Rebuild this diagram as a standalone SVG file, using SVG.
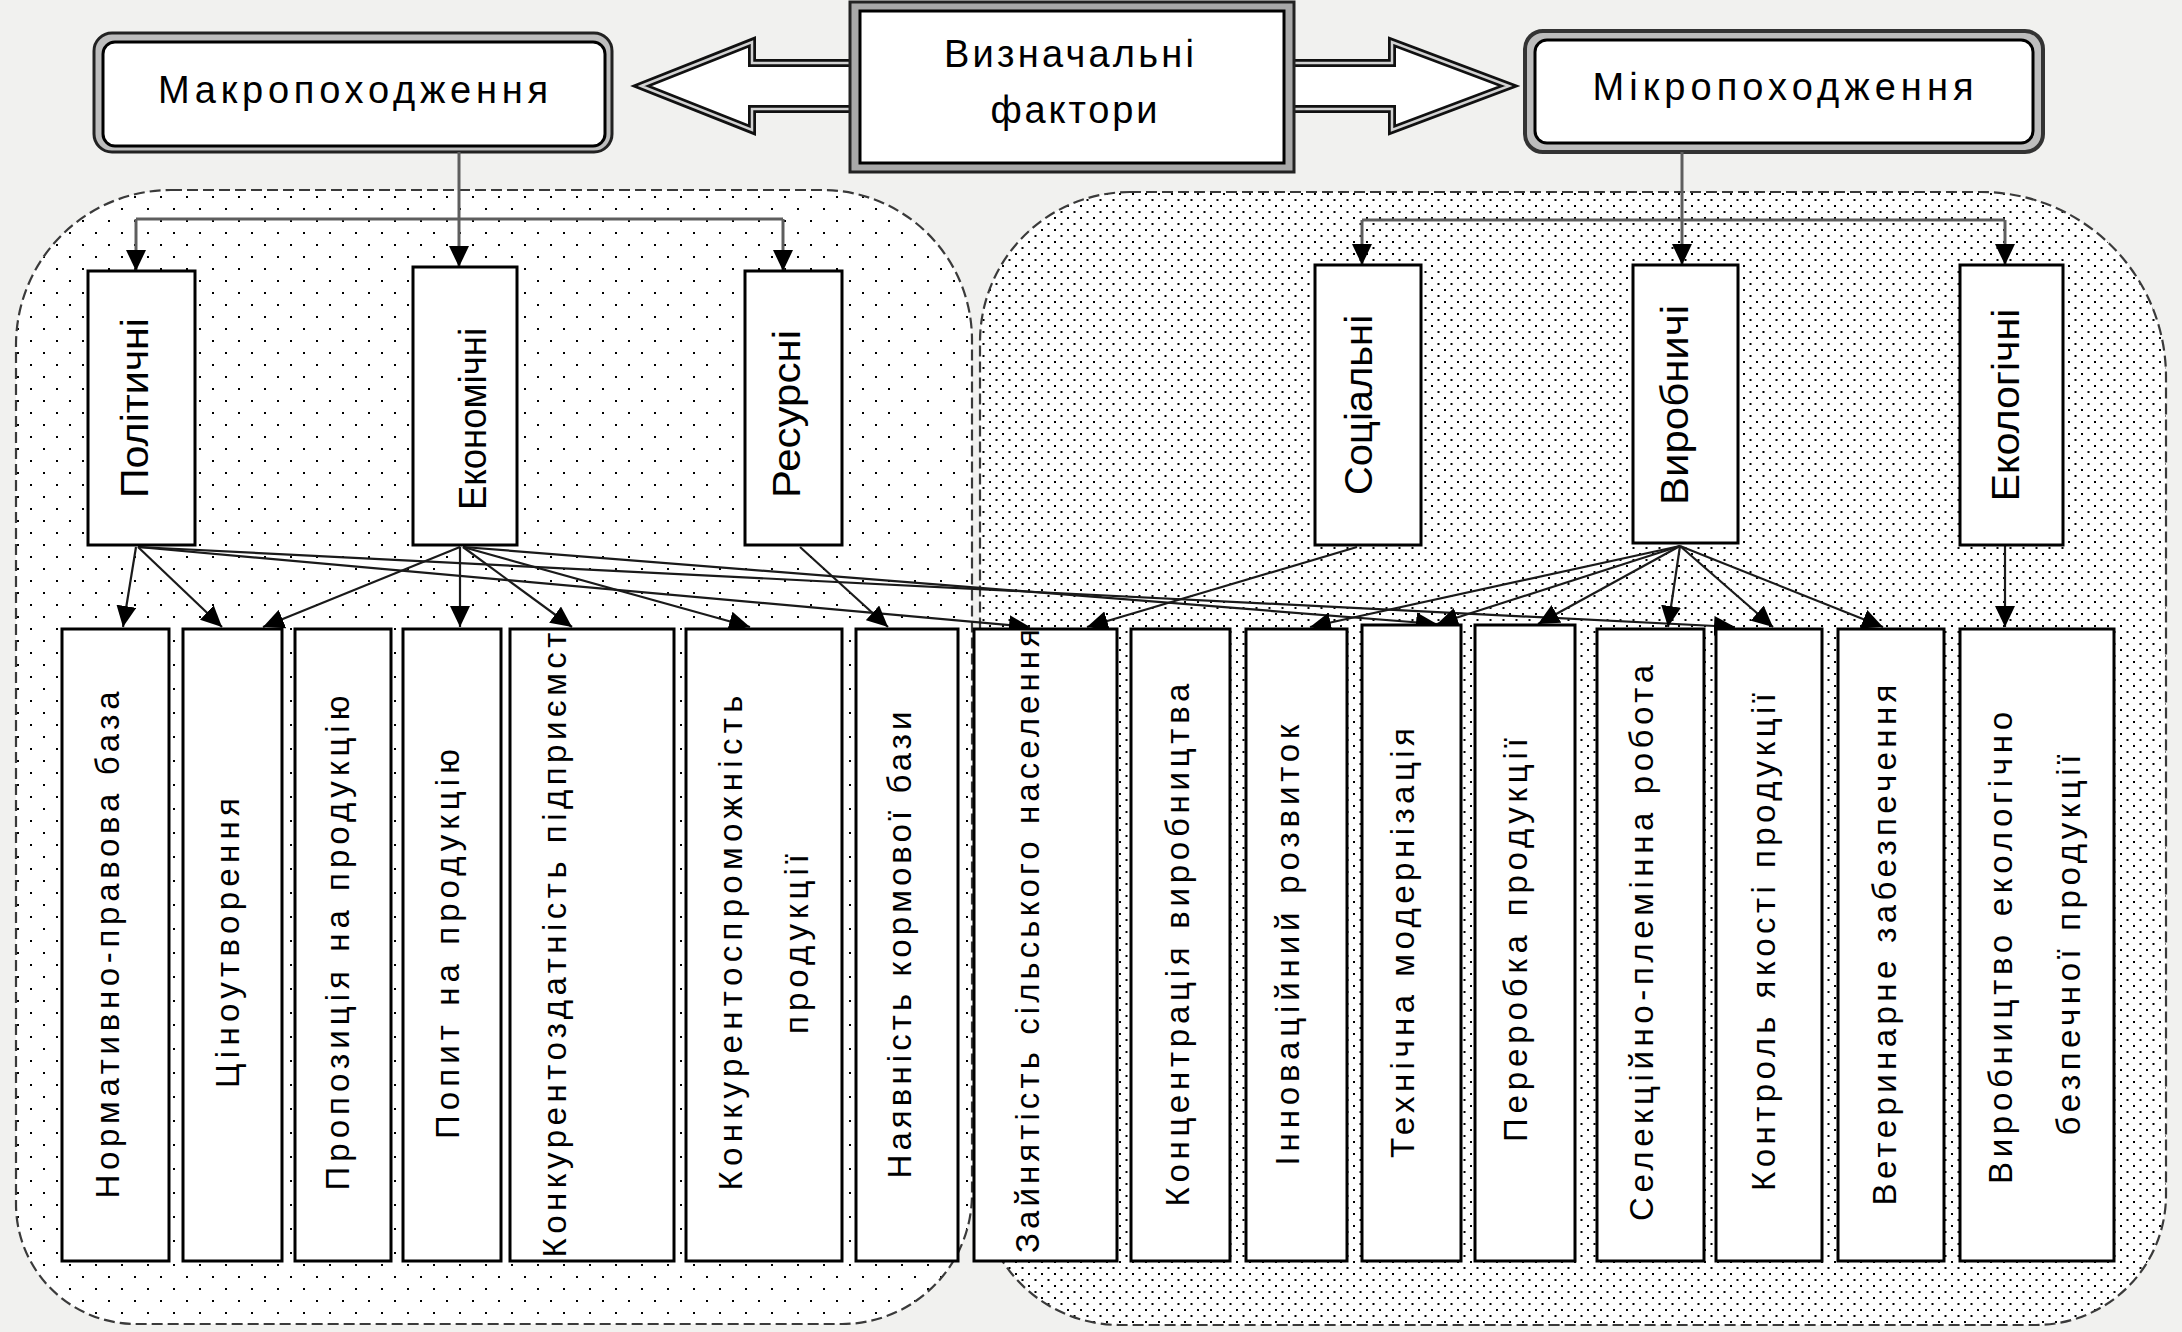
<svg xmlns="http://www.w3.org/2000/svg" width="2182" height="1332" viewBox="0 0 2182 1332">
<defs>
<style>
text{font-family:"Liberation Sans",Arial,sans-serif;fill:#000}
.top{font-size:38px;text-anchor:middle}
.mid{font-size:39px;text-anchor:middle}
.bot{font-size:33px;text-anchor:middle}
.box{fill:#fff;stroke:#000;stroke-width:3}
.region{fill:none;stroke:#3a3a3a;stroke-width:2.2;stroke-dasharray:11 5}
.ln{fill:none;stroke:#1a1a1a;stroke-width:2.2}
.br{fill:none;stroke:#5e5e5e;stroke-width:3}
</style>
<pattern id="dotsL" width="26" height="24" patternUnits="userSpaceOnUse">
<rect x="4" y="4" width="2" height="2" fill="#000"/>
<rect x="17" y="16" width="2" height="2" fill="#000"/>
</pattern>
<pattern id="dotsR" width="13" height="12" patternUnits="userSpaceOnUse">
<rect x="1" y="1" width="2" height="2" fill="#000"/>
<rect x="7.5" y="7" width="2" height="2" fill="#000"/>
</pattern>
<marker id="ah" viewBox="0 0 21 20" refX="21" refY="10" markerWidth="21" markerHeight="20" markerUnits="userSpaceOnUse" orient="auto">
<path d="M0,0 L21,10 L0,20 Z" fill="#000"/>
</marker>
</defs>
<rect x="0" y="0" width="2182" height="1332" fill="#f1f1ef"/>

<g id="region-macro">
<path d="M171,190 H822 A150 150 0 0 1 972,340 V1194 A130 130 0 0 1 842,1324 H136 A120 120 0 0 1 16,1204 V345 A155 155 0 0 1 171,190 Z" fill="#fff"/>
<path d="M171,190 H822 A150 150 0 0 1 972,340 V1194 A130 130 0 0 1 842,1324 H136 A120 120 0 0 1 16,1204 V345 A155 155 0 0 1 171,190 Z" fill="url(#dotsL)"/>
<path class="region" d="M171,190 H822 A150 150 0 0 1 972,340 V1194 A130 130 0 0 1 842,1324 H136 A120 120 0 0 1 16,1204 V345 A155 155 0 0 1 171,190 Z"/>
</g>
<g id="region-micro">
<path d="M1130,192 H1981 A185 185 0 0 1 2166,377 V1195 A130 130 0 0 1 2036,1325 H1120 A140 140 0 0 1 980,1185 V342 A150 150 0 0 1 1130,192 Z" fill="#fff"/>
<path d="M1130,192 H1981 A185 185 0 0 1 2166,377 V1195 A130 130 0 0 1 2036,1325 H1120 A140 140 0 0 1 980,1185 V342 A150 150 0 0 1 1130,192 Z" fill="url(#dotsR)"/>
<path class="region" d="M1130,192 H1981 A185 185 0 0 1 2166,377 V1195 A130 130 0 0 1 2036,1325 H1120 A140 140 0 0 1 980,1185 V342 A150 150 0 0 1 1130,192 Z"/>
</g>

<g id="factors">
<polygon points="641,86 752,42 752,63 1392,63 1392,42 1509,86 1392,130 1392,109 752,109 752,130" fill="#fff" stroke="#111" stroke-width="8" stroke-linejoin="miter"/>
<polygon points="641,86 752,42 752,63 1392,63 1392,42 1509,86 1392,130 1392,109 752,109 752,130" fill="none" stroke="#d2d2d2" stroke-width="2.5"/>
<rect x="850" y="2" width="444" height="170" fill="#a8a8a8" stroke="#222" stroke-width="3"/>
<rect x="860" y="11" width="424" height="152" fill="#fff" stroke="#000" stroke-width="3"/>
<text class="top" x="1069" y="67" font-size="36" textLength="250" lengthAdjust="spacing">Визначальні</text>
<text class="top" x="1074" y="123" font-size="36" textLength="167" lengthAdjust="spacing">фактори</text>
</g>

<g id="macro">
<rect x="94" y="33" width="518" height="119" rx="18" fill="#bdbdbd" stroke="#222" stroke-width="3"/>
<rect x="103" y="42" width="502" height="104" rx="12" fill="#fff" stroke="#000" stroke-width="3"/>
<text class="top" x="353" y="103" textLength="390" lengthAdjust="spacing">Макропоходження</text>
</g>
<g id="micro">
<rect x="1525" y="31" width="518" height="121" rx="18" fill="#bdbdbd" stroke="#333" stroke-width="4"/>
<rect x="1535" y="40" width="498" height="103" rx="12" fill="#fff" stroke="#000" stroke-width="3"/>
<text class="top" x="1783" y="100" textLength="381" lengthAdjust="spacing">Мікропоходження</text>
</g>

<g id="connectors">
<path class="br" d="M459,152 V267" marker-end="url(#ah)"/>
<path class="br" d="M136,219 H783"/>
<path class="br" d="M136,219 V271" marker-end="url(#ah)"/>
<path class="br" d="M783,219 V271" marker-end="url(#ah)"/>
<path class="br" d="M1682,152 V265" marker-end="url(#ah)"/>
<path class="br" d="M1362,220 H2005"/>
<path class="br" d="M1362,220 V265" marker-end="url(#ah)"/>
<path class="br" d="M2005,220 V265" marker-end="url(#ah)"/>

<path class="ln" d="M136,547 L123,627" marker-end="url(#ah)"/>
<path class="ln" d="M138,547 L222,627" marker-end="url(#ah)"/>
<path class="ln" d="M138,547 L1030,627" marker-end="url(#ah)"/>
<path class="ln" d="M138,547 L1735,627" marker-end="url(#ah)"/>
<path class="ln" d="M460,547 L263,627" marker-end="url(#ah)"/>
<path class="ln" d="M460,547 L460,627" marker-end="url(#ah)"/>
<path class="ln" d="M463,547 L572,627" marker-end="url(#ah)"/>
<path class="ln" d="M463,547 L750,627" marker-end="url(#ah)"/>
<path class="ln" d="M463,547 L1437,624" marker-end="url(#ah)"/>
<path class="ln" d="M800,547 L888,627" marker-end="url(#ah)"/>
<path class="ln" d="M1357,547 L1087,627" marker-end="url(#ah)"/>
<path class="ln" d="M1680,546 L1310,627" marker-end="url(#ah)"/>
<path class="ln" d="M1680,546 L1437,624" marker-end="url(#ah)"/>
<path class="ln" d="M1680,546 L1538,624" marker-end="url(#ah)"/>
<path class="ln" d="M1680,546 L1668,627" marker-end="url(#ah)"/>
<path class="ln" d="M1680,546 L1773,627" marker-end="url(#ah)"/>
<path class="ln" d="M1680,546 L1883,627" marker-end="url(#ah)"/>
<path class="ln" d="M2005,545 L2005,627" marker-end="url(#ah)"/>
</g>

<g id="n-politychni"><rect class="box" x="88" y="271" width="107" height="274"/><text class="mid" transform="translate(148,408) rotate(-90)" textLength="180" lengthAdjust="spacingAndGlyphs">Політичні</text></g>
<g id="n-ekonomichni"><rect class="box" x="413" y="267" width="104" height="278"/><text class="mid" transform="translate(486,419) rotate(-90)" textLength="182" lengthAdjust="spacingAndGlyphs">Економічні</text></g>
<g id="n-resursni"><rect class="box" x="745" y="271" width="97" height="274"/><text class="mid" transform="translate(800,414) rotate(-90)" textLength="168" lengthAdjust="spacingAndGlyphs">Ресурсні</text></g>
<g id="n-sotsialni"><rect class="box" x="1315" y="265" width="106" height="280"/><text class="mid" transform="translate(1372,405) rotate(-90)" textLength="180" lengthAdjust="spacingAndGlyphs">Соціальні</text></g>
<g id="n-vyrobnychi"><rect class="box" x="1633" y="265" width="105" height="278"/><text class="mid" transform="translate(1688,405) rotate(-90)" textLength="200" lengthAdjust="spacingAndGlyphs">Виробничі</text></g>
<g id="n-ekolohichni"><rect class="box" x="1960" y="265" width="103" height="280"/><text class="mid" transform="translate(2019,405) rotate(-90)" textLength="193" lengthAdjust="spacingAndGlyphs">Екологічні</text></g>

<g id="b1"><rect class="box" x="62" y="629" width="107" height="632"/><text class="bot" transform="translate(119,945) rotate(-90)" textLength="507" lengthAdjust="spacing">Нормативно-правова база</text></g>
<g id="b2"><rect class="box" x="183" y="629" width="99" height="632"/><text class="bot" transform="translate(239,943) rotate(-90)" textLength="290" lengthAdjust="spacing">Ціноутворення</text></g>
<g id="b3"><rect class="box" x="295" y="629" width="96" height="632"/><text class="bot" transform="translate(349,943) rotate(-90)" textLength="495" lengthAdjust="spacing">Пропозиція на продукцію</text></g>
<g id="b4"><rect class="box" x="403" y="629" width="98" height="632"/><text class="bot" transform="translate(459,944) rotate(-90)" textLength="390" lengthAdjust="spacing">Попит на продукцію</text></g>
<g id="b5"><rect class="box" x="510" y="629" width="164" height="632"/><text class="bot" transform="translate(566,945) rotate(-90)" textLength="625" lengthAdjust="spacing">Конкурентоздатність підприємст</text></g>
<g id="b6"><rect class="box" x="686" y="629" width="156" height="632"/><text class="bot" transform="translate(742,943) rotate(-90)" textLength="495" lengthAdjust="spacing">Конкурентоспроможність</text><text class="bot" transform="translate(808,944) rotate(-90)" textLength="180" lengthAdjust="spacing">продукції</text></g>
<g id="b7"><rect class="box" x="856" y="629" width="102" height="632"/><text class="bot" transform="translate(911,945) rotate(-90)" textLength="467" lengthAdjust="spacing">Наявність кормової бази</text></g>
<g id="b8"><rect class="box" x="974" y="629" width="143" height="632"/><text class="bot" transform="translate(1039,941) rotate(-90)" textLength="624" lengthAdjust="spacing">Зайнятість сільського населення</text></g>
<g id="b9"><rect class="box" x="1131" y="629" width="99" height="632"/><text class="bot" transform="translate(1189,945) rotate(-90)" textLength="523" lengthAdjust="spacing">Концентрація виробництва</text></g>
<g id="b10"><rect class="box" x="1246" y="629" width="101" height="632"/><text class="bot" transform="translate(1299,945) rotate(-90)" textLength="441" lengthAdjust="spacing">Інноваційний розвиток</text></g>
<g id="b11"><rect class="box" x="1362" y="625" width="99" height="636"/><text class="bot" transform="translate(1414,943) rotate(-90)" textLength="430" lengthAdjust="spacing">Технічна модернізація</text></g>
<g id="b12"><rect class="box" x="1475" y="625" width="100" height="636"/><text class="bot" transform="translate(1527,940) rotate(-90)" textLength="404" lengthAdjust="spacing">Переробка продукції</text></g>
<g id="b13"><rect class="box" x="1597" y="629" width="107" height="632"/><text class="bot" transform="translate(1653,943) rotate(-90)" textLength="556" lengthAdjust="spacing">Селекційно-племінна робота</text></g>
<g id="b14"><rect class="box" x="1716" y="629" width="106" height="632"/><text class="bot" transform="translate(1775,942) rotate(-90)" textLength="498" lengthAdjust="spacing">Контроль якості продукції</text></g>
<g id="b15"><rect class="box" x="1838" y="629" width="106" height="632"/><text class="bot" transform="translate(1896,945) rotate(-90)" textLength="521" lengthAdjust="spacing">Ветеринарне забезпечення</text></g>
<g id="b16"><rect class="box" x="1960" y="629" width="154" height="632"/><text class="bot" transform="translate(2012,948) rotate(-90)" textLength="472" lengthAdjust="spacing">Виробництво екологічно</text><text class="bot" transform="translate(2080,945) rotate(-90)" textLength="381" lengthAdjust="spacing">безпечної продукції</text></g>
</svg>
